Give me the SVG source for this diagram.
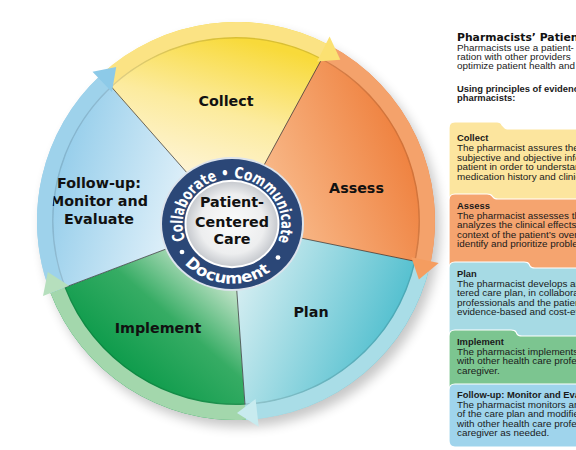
<svg xmlns="http://www.w3.org/2000/svg" width="576" height="450" viewBox="0 0 576 450">
<style>
.lbl{font-family:"DejaVu Sans","Liberation Sans",sans-serif;font-weight:bold;font-size:14.3px;fill:#111;text-anchor:middle}
.ring{font-family:"DejaVu Sans","Liberation Sans",sans-serif;font-weight:bold;font-size:16.5px;fill:#fff}
.spoke{stroke:#2a2a2a;stroke-width:0.8;opacity:0.85}
.ttl{font-family:"DejaVu Sans","Liberation Sans",sans-serif;font-weight:bold;font-size:10.8px;fill:#111}
.bt{font-family:"Liberation Sans",Arial,sans-serif;font-size:9.9px;fill:#1a1a1a}
.bh{font-family:"Liberation Sans",Arial,sans-serif;font-weight:bold;font-size:9.4px;fill:#1a1a1a}
.box{stroke:#fff;stroke-width:1.2}
</style>
<defs>
<filter id="sh" x="-20%" y="-20%" width="140%" height="140%"><feGaussianBlur stdDeviation="6"/></filter>
<linearGradient id="gC" gradientUnits="userSpaceOnUse" x1="205" y1="185" x2="245" y2="40"><stop offset="0" stop-color="#FEF5DA"/><stop offset="0.5" stop-color="#FCEB9E"/><stop offset="1" stop-color="#F8DA3A"/></linearGradient>
<linearGradient id="gA" gradientUnits="userSpaceOnUse" x1="280" y1="210" x2="425" y2="150"><stop offset="0" stop-color="#F8B888"/><stop offset="1" stop-color="#EE7C38"/></linearGradient>
<linearGradient id="gP" gradientUnits="userSpaceOnUse" x1="250" y1="260" x2="420" y2="330"><stop offset="0" stop-color="#D3EDF1"/><stop offset="1" stop-color="#40B9CA"/></linearGradient>
<linearGradient id="gI" gradientUnits="userSpaceOnUse" x1="215" y1="250" x2="110" y2="370"><stop offset="0" stop-color="#E6F2E2"/><stop offset="0.5" stop-color="#36AC64"/><stop offset="1" stop-color="#089948"/></linearGradient>
<linearGradient id="gF" gradientUnits="userSpaceOnUse" x1="190" y1="210" x2="50" y2="170"><stop offset="0" stop-color="#E4F2FA"/><stop offset="1" stop-color="#92CCEA"/></linearGradient>
<radialGradient id="gD" cx="0" cy="0" r="46" gradientUnits="userSpaceOnUse"><stop offset="0" stop-color="#FBFBFB"/><stop offset="0.7" stop-color="#EDEEEF"/><stop offset="1" stop-color="#C6C9CE"/></radialGradient>
<path id="arcTop" d="M0,49.5 A49.5,49.5 0 0,1 0,-49.5 A49.5,49.5 0 0,1 0,49.5"/>
<path id="arcBot" d="M-64,0 A64,64 0 0,0 64,0"/>
</defs>

<rect width="576" height="450" fill="#fff"/>

<!-- wheel shadow -->
<circle cx="241" cy="228" r="199" fill="#000" opacity="0.22" filter="url(#sh)"/>

<!-- wedges -->
<g id="node-collect">
<path d="M232,224 L100.5,75.2 A199,199 0 0,1 329.1,45.1 Z" fill="url(#gC)"/>
<text class="lbl" x="226" y="105.5">Collect</text>
</g>
<g id="node-assess">
<path d="M232,224 L329.1,45.1 A199,199 0 0,1 430.1,264.7 Z" fill="url(#gA)"/>
<text class="lbl" x="356.5" y="193">Assess</text>
</g>
<g id="node-plan">
<path d="M232,224 L430.1,264.7 A199,199 0 0,1 245.7,419.8 Z" fill="url(#gP)"/>
<text class="lbl" x="311" y="317">Plan</text>
</g>
<g id="node-implement">
<path d="M232,224 L245.7,419.8 A199,199 0 0,1 50.5,293 Z" fill="url(#gI)"/>
<text class="lbl" x="158" y="332.5">Implement</text>
</g>
<g id="node-followup">
<path d="M232,224 L50.5,293 A199,199 0 0,1 100.5,75.2 Z" fill="url(#gF)"/>
<text class="lbl" x="99" y="188">Follow-up:</text>
<text class="lbl" x="99" y="206">Monitor and</text>
<text class="lbl" x="99" y="223.5">Evaluate</text>
</g>

<!-- connectors: spokes and ring arrows -->
<g id="connectors">
<line class="spoke" x1="232" y1="224" x2="110.8" y2="86.2"/>
<line class="spoke" x1="232" y1="224" x2="322.1" y2="58.4"/>
<line class="spoke" x1="232" y1="224" x2="415.5" y2="261.4"/>
<line class="spoke" x1="232" y1="224" x2="245" y2="404.8"/>
<line class="spoke" x1="232" y1="224" x2="64.5" y2="287.5"/>
<circle cx="236" cy="221" r="183.5" fill="none" stroke="#000" stroke-opacity="0.12" stroke-width="2"/>
<path d="M100.5,75.2 A199,199 0 0,1 329.1,45.1 L322.1,58.4 A184,184 0 0,0 110.8,86.2 Z" fill="#FBE384"/>
<path d="M329.1,45.1 A199,199 0 0,1 430.1,264.7 L415.5,261.4 A184,184 0 0,0 322.1,58.4 Z" fill="#F4A26B"/>
<path d="M430.1,264.7 A199,199 0 0,1 245.7,419.8 L245,404.8 A184,184 0 0,0 415.5,261.4 Z" fill="#A9DDE7"/>
<path d="M245.7,419.8 A199,199 0 0,1 50.5,293 L64.5,287.5 A184,184 0 0,0 245,404.8 Z" fill="#A3D7AC"/>
<path d="M50.5,293 A199,199 0 0,1 100.5,75.2 L110.8,86.2 A184,184 0 0,0 64.5,287.5 Z" fill="#9ED2EB"/>
<polygon points="329.6,36.4 340.3,59.8 317,61.4" fill="#FBE172"/>
<polygon points="438.7,263 418.9,279.4 411.3,257.3" fill="#F59D60"/>
<polygon points="258.7,426.8 237,413 255.6,398.9" fill="#C8EBEF"/>
<polygon points="43,295.9 47.8,272.1 69.1,285.7" fill="#B6DFBD"/>
<polygon points="92.5,71.8 116.2,67.1 111.9,92" fill="#8DCAE8"/>
</g>

<!-- central badge -->
<g id="node-center">
<g transform="translate(232,224) scale(1,0.93)">
<circle r="72" fill="#DCE3EC"/>
<circle r="70" fill="#2B4777"/>
<circle r="47.5" fill="#fff"/>
<circle r="45.5" fill="url(#gD)"/>
<text class="ring"><textPath href="#arcTop" startOffset="50.3%" text-anchor="middle" textLength="192" lengthAdjust="spacingAndGlyphs">Collaborate • Communicate</textPath></text>
<text class="ring"><textPath href="#arcBot" startOffset="47%" text-anchor="middle" textLength="95" lengthAdjust="spacingAndGlyphs">Document</textPath></text>
<circle cx="-50" cy="30" r="2.4" fill="#fff"/>
<circle cx="46" cy="36" r="2.4" fill="#fff"/>
</g>
<text class="lbl" x="232" y="207.3">Patient-</text>
<text class="lbl" x="232" y="226.7">Centered</text>
<text class="lbl" x="232" y="243.5">Care</text>
</g>

<!-- right panel -->
<g id="panel-intro">
<text class="ttl" x="457" y="41">Pharmacists’ Patient</text>
<text class="bt" x="457" y="51">Pharmacists use a patient-</text>
<text class="bt" x="457" y="60">ration with other providers</text>
<text class="bt" x="457" y="69">optimize patient health and</text>
<text class="bh" x="457" y="92">Using principles of evidence</text>
<text class="bh" x="457" y="101">pharmacists:</text>
</g>

<g id="box-collect">
<path class="box" d="M449,128 Q449,122 455,122 L497,122 Q501,122 502,125 L504,127 Q505,129 509,129 L590,129 L590,205 L449,205 Z" fill="#FCE59E"/>
<text class="bh" x="457" y="141">Collect</text>
<text class="bt" x="457" y="151">The pharmacist assures the</text>
<text class="bt" x="457" y="160.5">subjective and objective information</text>
<text class="bt" x="457" y="170">patient in order to understand</text>
<text class="bt" x="457" y="179.5">medication history and clinical</text>
</g>
<g id="box-assess">
<path class="box" d="M449,200 Q449,194 455,194 L487,194 Q491,194 492,196 L493,197 Q494,199 498,199 L590,199 L590,272 L449,272 Z" fill="#F5A46F"/>
<text class="bh" x="457" y="209">Assess</text>
<text class="bt" x="457" y="218.5">The pharmacist assesses the</text>
<text class="bt" x="457" y="228">analyzes the clinical effects</text>
<text class="bt" x="457" y="237.5">context of the patient’s overall</text>
<text class="bt" x="457" y="247">identify and prioritize problems</text>
</g>
<g id="box-plan">
<path class="box" d="M449,268 Q449,262 455,262 L524,262 Q528,262 529,264 L530,266 Q531,268 535,268 L590,268 L590,340 L449,340 Z" fill="#A6DAE4"/>
<text class="bh" x="457" y="276.5">Plan</text>
<text class="bt" x="457" y="286.5">The pharmacist develops an</text>
<text class="bt" x="457" y="296">tered care plan, in collaboration</text>
<text class="bt" x="457" y="305.5">professionals and the patient</text>
<text class="bt" x="457" y="315">evidence-based and cost-effective</text>
</g>
<g id="box-implement">
<path class="box" d="M449,336 Q449,330 455,330 L511,330 Q515,330 516,332 L517,334 Q518,336 522,336 L590,336 L590,392 L449,392 Z" fill="#7CC590"/>
<text class="bh" x="457" y="344.5">Implement</text>
<text class="bt" x="457" y="354.5">The pharmacist implements</text>
<text class="bt" x="457" y="364">with other health care professionals</text>
<text class="bt" x="457" y="373.5">caregiver.</text>
</g>
<g id="box-followup">
<path class="box" d="M449,390 Q449,384 455,384 L590,384 L590,447 L455,447 Q449,447 449,441 Z" fill="#9FD4EC"/>
<text class="bh" x="457" y="397.5">Follow-up: Monitor and Evaluate</text>
<text class="bt" x="457" y="407.5">The pharmacist monitors and</text>
<text class="bt" x="457" y="417">of the care plan and modifies</text>
<text class="bt" x="457" y="426.5">with other health care professionals</text>
<text class="bt" x="457" y="436">caregiver as needed.</text>
</g>
</svg>
